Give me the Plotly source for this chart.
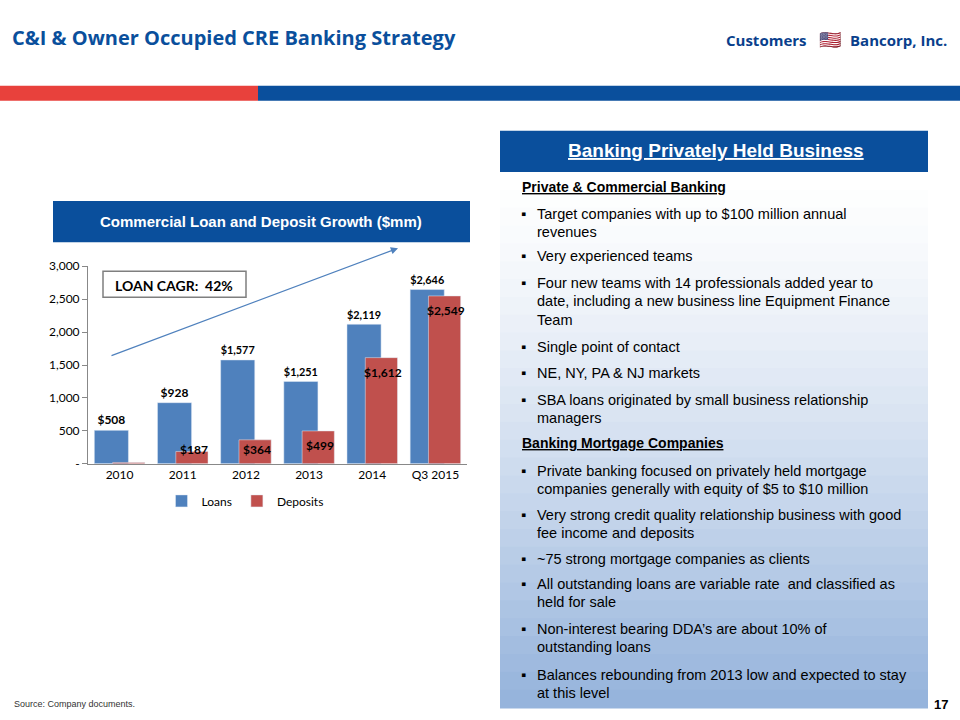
import plotly.graph_objects as go

years = ["2010", "2011", "2012", "2013", "2014", "Q3 2015"]
loans = [508, 928, 1577, 1251, 2119, 2646]
deposits = [20, 187, 364, 499, 1612, 2549]
loan_labels = ["$508", "$928", "$1,577", "$1,251", "$2,119", "$2,646"]
dep_labels = ["", "$187", "$364", "$499", "$1,612", "$2,549"]
y_ticks = [0, 500, 1000, 1500, 2000, 2500, 3000]
y_ticktext = ["-", "500", "1,000", "1,500", "2,000", "2,500", "3,000"]

W, H = 960, 720
def px(x): return x / W
def py(y): return 1 - ((y - 8.5) / 0.9764) / H

def txt(x, y, text, size, color="#000", family="Liberation Sans", xanchor="center"):
    return dict(x=px(x), y=py(y), xref="paper", yref="paper", text=text, showarrow=False,
                xanchor=xanchor, yanchor="middle", font=dict(family=family, size=size, color=color))

idx = list(range(len(years)))
fig = go.Figure()
fig.add_trace(go.Bar(x=idx, y=loans, name="Loans", marker_color="#4f81bd",
            width=[0.54] * 6, offset=[-0.4] * 6, text=["<b>" + s + "</b>" for s in loan_labels],
            textposition="outside",
            textfont=dict(family="Lato", size=12, color="#000"), cliponaxis=False))
fig.add_trace(go.Bar(x=idx, y=deposits, name="Deposits", marker_color="#c0504d",
            width=[0.51] * 6, offset=[-0.11] * 6))

ann = []
for i, v, t in zip(idx, deposits, dep_labels):
    if t:
        ann.append(dict(x=i, y=max(v - 228, 213), xref="x", yref="y", text="<b>" + t + "</b>",
                        showarrow=False, xshift=11, xanchor="center", yanchor="middle",
                        font=dict(family="Lato", size=12, color="#000")))

shapes = []
def rect(x0, x1, ytop, ybot, **kw):
    return dict(type="rect", xref="paper", yref="paper", x0=px(x0), x1=px(x1), y0=py(ybot), y1=py(ytop), **kw)

shapes.append(rect(0, 258, 86, 101, fillcolor="#e8413c", line_width=0, layer="below"))
shapes.append(rect(258, 960, 86, 101, fillcolor="#0a4f9c", line_width=0, layer="below"))
shapes.append(rect(53, 470, 201, 242, fillcolor="#0a4f9c", line_width=0, layer="below"))
n = 30
top, bot = 172, 706
for i in range(n):
    f = i / (n - 1)
    r = int(255 + (150 - 255) * f ** 1.3)
    g = int(255 + (180 - 255) * f ** 1.3)
    b = int(255 + (220 - 255) * f ** 1.3)
    y0 = top + (bot - top) * i / n
    y1 = top + (bot - top) * (i + 1) / n + 1
    shapes.append(rect(500, 928, y0, y1, fillcolor=f"rgb({r},{g},{b})", line_width=0, layer="below"))
shapes.append(rect(500, 928, 131, 172, fillcolor="#0a4f9c", line_width=0, layer="below"))
shapes.append(rect(103, 246, 271, 297, fillcolor="white", line=dict(color="#7f7f7f", width=1.5)))

ann += [
    txt(10, 38, "<b>C&I & Owner Occupied CRE Banking Strategy</b>", 20, "#0a4f9c", "Open Sans", "left"),
    txt(724, 40, "<b>Customers</b>", 15, "#0a3f8c", "Open Sans", "left"),
    txt(848, 40, "<b>Bancorp, Inc.</b>", 15, "#0a3f8c", "Open Sans", "left"),
    txt(830, 40, "🇺🇸", 18),
    txt(261, 221, "<b>Commercial Loan and Deposit Growth ($mm)</b>", 15, "white"),
    txt(174, 285, "<b>LOAN CAGR:  42%</b>", 14, "#000", "Lato"),
    dict(x=px(398), y=py(248), ax=-288, ay=108, xref="paper", yref="paper", text="", showarrow=True, arrowhead=2, arrowsize=1.2, arrowwidth=1.2, arrowcolor="#4f81bd"),
    txt(716, 151, "<b><u>Banking Privately Held Business</u></b>", 19, "white"),
    txt(12, 703, "Source: Company documents.", 9, "#333", xanchor="left"),
    txt(950, 703, "<b>17</b>", 13, xanchor="right"),
]

lines = [
    ("h", "Private & Commercial Banking", 187),
    ("b", "Target companies with up to $100 million annual", 214), ("c", "revenues", 232),
    ("b", "Very experienced teams", 256),
    ("b", "Four new teams with 14 professionals added year to", 283), ("c", "date, including a new business line Equipment Finance", 301), ("c", "Team", 320),
    ("b", "Single point of contact", 347),
    ("b", "NE, NY, PA & NJ markets", 372),
    ("b", "SBA loans originated by small business relationship", 399), ("c", "managers", 417),
    ("h", "Banking Mortgage Companies", 442),
    ("b", "Private banking focused on privately held mortgage", 470), ("c", "companies generally with equity of $5 to $10 million", 488),
    ("b", "Very strong credit quality relationship business with good", 514), ("c", "fee income and deposits", 532),
    ("b", "~75 strong mortgage companies as clients", 558),
    ("b", "All outstanding loans are variable rate  and classified as", 583), ("c", "held for sale", 601),
    ("b", "Non-interest bearing DDA’s are about 10% of", 628), ("c", "outstanding loans", 646),
    ("b", "Balances rebounding from 2013 low and expected to stay", 674), ("c", "at this level", 692),
]
for kind, t, y in lines:
    if kind == "h":
        ann.append(txt(520, y, "<b><u>" + t + "</u></b>", 14, xanchor="left"))
    else:
        if kind == "b":
            ann.append(txt(519, y, "▪", 14.5, xanchor="left"))
        ann.append(txt(535, y, t, 14.5, xanchor="left"))

fig.update_layout(
    width=W, height=H, margin=dict(l=0, r=0, t=0, b=0), autosize=False,
    paper_bgcolor="white", plot_bgcolor="rgba(0,0,0,0)",
    barmode="overlay", showlegend=True,
    legend=dict(orientation="h", x=px(245), xanchor="center", y=py(500), yanchor="middle",
                font=dict(family="Lato", size=12, color="#000"), traceorder="normal"),
    xaxis=dict(domain=[px(88), px(467)], range=[-0.5, 5.5], tickvals=idx, ticktext=years,
               showline=True, linecolor="#888", ticks="", showgrid=False, zeroline=False,
               tickfont=dict(family="Lato", size=12, color="#000")),
    yaxis=dict(domain=[py(463), py(266)], range=[0, 3000], tickvals=y_ticks, ticktext=y_ticktext,
               showgrid=False, showline=True, linecolor="#888", ticks="outside", tickcolor="#888",
               tickfont=dict(family="Lato", size=12, color="#000"), zeroline=False),
    shapes=shapes, annotations=ann,
)
fig.write_html("out.html", config={"displayModeBar": False})
with open("out.html", encoding="utf-8") as fh:
    html = fh.read()
html = html.replace("<head>", "<head><style>html,body{margin:0;padding:0;}</style>", 1)
with open("out.html", "w", encoding="utf-8") as fh:
    fh.write(html)
